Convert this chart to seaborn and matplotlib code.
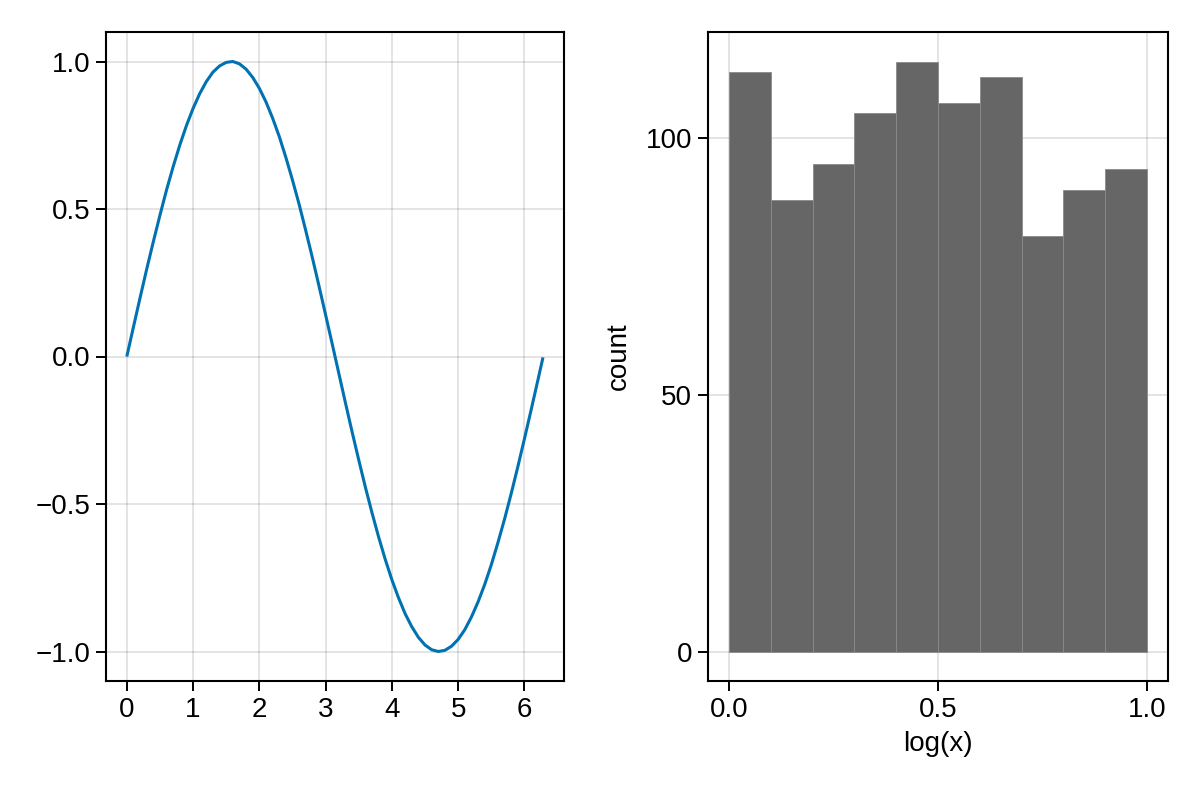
import numpy as np
import pandas as pd
import matplotlib
matplotlib.use('Agg')
import matplotlib.pyplot as plt
import seaborn as sns

# sine curve
sine_x = [0.0, 0.1, 0.2, 0.3, 0.4, 0.5, 0.6, 0.7, 0.8, 0.9, 1.0, 1.1, 1.2, 1.3, 1.4, 1.5,
          1.6, 1.7, 1.8, 1.9, 2.0, 2.1, 2.2, 2.3, 2.4, 2.5, 2.6, 2.7, 2.8, 2.9, 3.0, 3.1,
          3.2, 3.3, 3.4, 3.5, 3.6, 3.7, 3.8, 3.9, 4.0, 4.1, 4.2, 4.3, 4.4, 4.5, 4.6, 4.7,
          4.8, 4.9, 5.0, 5.1, 5.2, 5.3, 5.4, 5.5, 5.6, 5.7, 5.8, 5.9, 6.0, 6.1, 6.2, 6.28]
sine_y = [0.000, 0.100, 0.199, 0.296, 0.389, 0.479, 0.565, 0.644, 0.717, 0.783, 0.841,
          0.891, 0.932, 0.964, 0.985, 0.997, 1.000, 0.992, 0.974, 0.946, 0.909, 0.863,
          0.808, 0.746, 0.675, 0.598, 0.516, 0.427, 0.335, 0.239, 0.141, 0.042, -0.058,
          -0.158, -0.256, -0.351, -0.443, -0.530, -0.612, -0.688, -0.757, -0.818, -0.872,
          -0.916, -0.952, -0.978, -0.994, -1.000, -0.996, -0.982, -0.959, -0.926, -0.883,
          -0.832, -0.773, -0.706, -0.631, -0.551, -0.465, -0.374, -0.279, -0.182, -0.083,
          -0.003]

# histogram bins and counts
bin_edges = [0.0, 0.1, 0.2, 0.3, 0.4, 0.5, 0.6, 0.7, 0.8, 0.9, 1.0]
bin_counts = [113, 88, 95, 105, 115, 107, 112, 81, 90, 94]

left_xticks = [0, 1, 2, 3, 4, 5, 6]
left_yticks = [-1.0, -0.5, 0.0, 0.5, 1.0]
right_xticks = [0.0, 0.5, 1.0]
right_yticks = [0, 50, 100]

sns.set_theme(style='white')
plt.rcParams['font.family'] = ['Liberation Sans', 'DejaVu Sans']
plt.rcParams['axes.unicode_minus'] = True
plt.rcParams['text.color'] = 'black'
plt.rcParams['axes.labelcolor'] = 'black'
plt.rcParams['xtick.color'] = 'black'
plt.rcParams['ytick.color'] = 'black'

fig = plt.figure(figsize=(12, 8), dpi=100)
ax1 = fig.add_axes([106 / 1200, 119 / 800, 458 / 1200, 649 / 800])
ax2 = fig.add_axes([708 / 1200, 119 / 800, 460 / 1200, 649 / 800])

sine_df = pd.DataFrame({'x': sine_x, 'y': sine_y})
sns.lineplot(data=sine_df, x='x', y='y', ax=ax1, color='#0072B2', linewidth=2.2,
             sort=False, solid_joinstyle='round', solid_capstyle='butt')
ax1.set_xlim(-0.314, 6.597)
ax1.set_ylim(-1.1, 1.1)
ax1.set_xticks(left_xticks)
ax1.set_xticklabels([str(t) for t in left_xticks])
ax1.set_yticks(left_yticks)
ax1.set_yticklabels([f'{t:.1f}'.replace('-', '\u2212') for t in left_yticks])
ax1.set_xlabel('')
ax1.set_ylabel('')

centers = [(bin_edges[i] + bin_edges[i + 1]) / 2 for i in range(len(bin_counts))]
hist_df = pd.DataFrame({'v': centers, 'w': bin_counts})
sns.histplot(data=hist_df, x='v', weights='w', bins=bin_edges, ax=ax2,
             color='#666666', alpha=1.0, edgecolor='#8a8a8a', linewidth=0.6)
ax2.set_xlim(-0.05, 1.05)
ax2.set_ylim(-5.75, 120.75)
ax2.set_xticks(right_xticks)
ax2.set_xticklabels([f'{t:.1f}' for t in right_xticks])
ax2.set_yticks(right_yticks)
ax2.set_yticklabels([str(t) for t in right_yticks])
ax2.set_xlabel('log(x)', fontsize=20, labelpad=6)
ax2.set_ylabel('count', fontsize=20, labelpad=10)

for ax in (ax1, ax2):
    ax.set_axisbelow(True)
    ax.grid(True, color='black', alpha=0.11, linewidth=1.4)
    for s in ax.spines.values():
        s.set_visible(True)
        s.set_color('black')
        s.set_linewidth(1.5)
    ax.tick_params(axis='both', direction='out', length=7.5, width=1.4,
                   labelsize=20, pad=4, bottom=True, left=True)

fig.savefig('out.png', dpi=100)
